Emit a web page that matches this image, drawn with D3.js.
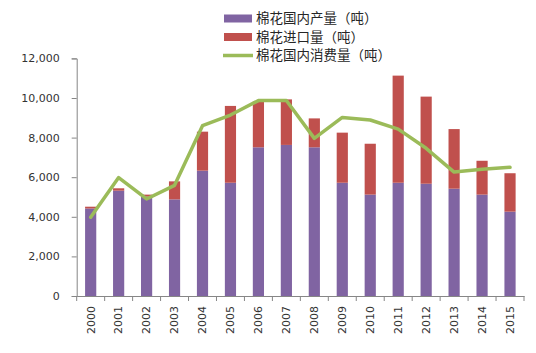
<!DOCTYPE html>
<html><head><meta charset="utf-8">
<script src="https://cdn.jsdelivr.net/npm/d3@7/dist/d3.min.js"></script>
<style>body{margin:0;background:#fff}svg{display:block}</style>
</head><body><svg id="c" width="536" height="353"></svg>
<script>
const years = ["2000","2001","2002","2003","2004","2005","2006","2007","2008","2009","2010","2011","2012","2013","2014","2015"];
const production = [4420,5320,5020,4880,6330,5720,7510,7630,7510,5720,5120,5720,5670,5420,5120,4260];
const imports =    [90,120,100,910,1970,3880,2310,2300,1460,2530,2570,5410,4400,3010,1710,1940];
const consumption =[3980,5980,4900,5590,8600,9140,9870,9870,7960,9020,8890,8430,7460,6260,6400,6500];
const yTicks = [0,2000,4000,6000,8000,10000,12000];
const seriesNames = ["棉花国内产量（吨）","棉花进口量（吨）","棉花国内消费量（吨）"];
const colors = ["#8064A2","#C0504D","#9BBB59"];

(function(){
const svg = d3.select("#c");
const mL = 76.7, mR = 524, mT = 58.4, mB = 296;
const x = d3.scaleBand().domain(years).range([mL, mR]).paddingInner(0.6).paddingOuter(0.3);
const y = d3.scaleLinear().domain([0, 12000]).range([mB, mT]);
const font = "'DejaVu Sans', sans-serif";

// bars
const g = svg.append("g");
g.selectAll("rect.p").data(years).join("rect").attr("class","p")
  .attr("x", d => x(d)).attr("width", x.bandwidth())
  .attr("y", (d,i) => y(production[i])).attr("height", (d,i) => y(0) - y(production[i]))
  .attr("fill", colors[0]);
g.selectAll("rect.i").data(years).join("rect").attr("class","i")
  .attr("x", d => x(d)).attr("width", x.bandwidth())
  .attr("y", (d,i) => y(production[i] + imports[i])).attr("height", (d,i) => y(production[i]) - y(production[i] + imports[i]))
  .attr("fill", colors[1]);

// line
const line = d3.line().x((d,i) => x(years[i]) + x.bandwidth()/2).y(d => y(d));
svg.append("path").datum(consumption).attr("d", line)
  .attr("fill", "none").attr("stroke", colors[2]).attr("stroke-width", 3.5)
  .attr("stroke-linejoin", "round").attr("stroke-linecap", "round");

// y axis
const ya = svg.append("g").attr("transform", `translate(${mL},0)`)
  .call(d3.axisLeft(y).tickValues(yTicks).tickFormat(d3.format(",")).tickSize(5).tickPadding(12));
ya.select(".domain").attr("stroke", "#868686");
ya.selectAll(".tick line").attr("stroke", "#868686");
ya.selectAll(".tick text").attr("font-family", font).attr("font-size", 11).attr("fill", "#333");

// x axis
const xa = svg.append("g").attr("transform", `translate(0,${mB})`)
  .call(d3.axisBottom(x).tickSize(0).tickSizeOuter(0));
xa.select(".domain").attr("stroke", "#868686");
xa.selectAll(".tick text").attr("font-family", font).attr("font-size", 11).attr("fill", "#333")
  .attr("transform", "rotate(-90)").attr("text-anchor", "end").attr("x", -10).attr("y", 0).attr("dy", "0.35em");
const bounds = d3.range(years.length + 1).map(i => mL + i * x.step());
xa.selectAll("line.b").data(bounds).join("line").attr("class","b")
  .attr("x1", d => d).attr("x2", d => d).attr("y1", 0).attr("y2", 5).attr("stroke", "#868686");

// legend
const lg = svg.append("g");
const lx = 224, ly0 = 18.5, step = 18.5;
seriesNames.forEach((n, i) => {
  const cy = ly0 + i * step;
  if (i < 2) {
    lg.append("rect").attr("x", lx).attr("y", cy - 4).attr("width", 28).attr("height", 8).attr("fill", colors[i]);
  } else {
    lg.append("line").attr("x1", lx - 1).attr("x2", lx + 29).attr("y1", cy).attr("y2", cy)
      .attr("stroke", colors[i]).attr("stroke-width", 3.5);
  }
  lg.append("text").attr("x", lx + 32).attr("y", cy).attr("dy", "0.35em")
    .attr("font-family", "'Noto Sans CJK SC', sans-serif").attr("font-size", 13.5).attr("fill", "#262626").text(n);
});
})();
</script></body></html>
